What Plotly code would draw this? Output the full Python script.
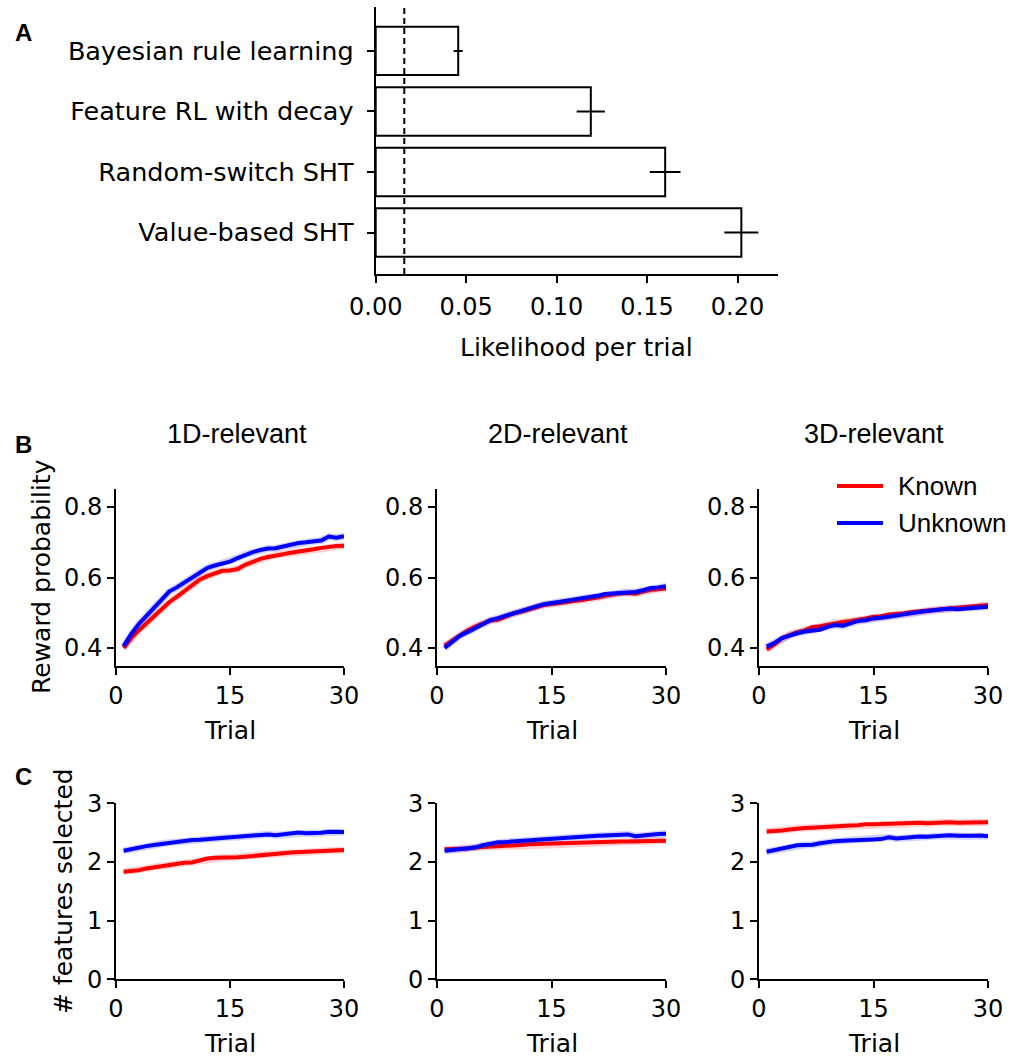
import plotly.graph_objects as go

W, H = 1024, 1059

# ---------------- data ----------------
models = ["Bayesian rule learning", "Feature RL with decay", "Random-switch SHT", "Value-based SHT"]
likelihood = [0.0456, 0.1189, 0.1600, 0.2021]
likelihood_err = [0.0025, 0.0078, 0.0085, 0.0094]
chance_level = 0.0158

trials = list(range(1, 31))
conditions = ["1D-relevant", "2D-relevant", "3D-relevant"]

reward_known_1d = [0.400, 0.428, 0.450, 0.470, 0.490, 0.512, 0.530, 0.545, 0.562, 0.580,
                   0.594, 0.604, 0.611, 0.619, 0.620, 0.624, 0.636, 0.645, 0.653, 0.658,
                   0.663, 0.666, 0.670, 0.673, 0.675, 0.680, 0.684, 0.687, 0.689, 0.690]
reward_unknown_1d = [0.405, 0.440, 0.468, 0.490, 0.512, 0.535, 0.560, 0.572, 0.586, 0.600,
                     0.612, 0.627, 0.634, 0.641, 0.645, 0.655, 0.665, 0.672, 0.678, 0.682,
                     0.683, 0.688, 0.693, 0.698, 0.700, 0.703, 0.705, 0.716, 0.713, 0.717]
reward_known_2d = [0.407, 0.422, 0.438, 0.450, 0.461, 0.470, 0.478, 0.480, 0.490, 0.498,
                   0.503, 0.510, 0.516, 0.522, 0.525, 0.527, 0.529, 0.533, 0.536, 0.539,
                   0.543, 0.548, 0.552, 0.555, 0.556, 0.554, 0.560, 0.565, 0.567, 0.569]
reward_unknown_2d = [0.400, 0.418, 0.435, 0.445, 0.457, 0.468, 0.479, 0.485, 0.492, 0.499,
                     0.505, 0.512, 0.518, 0.524, 0.527, 0.529, 0.534, 0.538, 0.541, 0.544,
                     0.548, 0.553, 0.555, 0.556, 0.559, 0.559, 0.564, 0.570, 0.572, 0.575]
reward_known_3d = [0.396, 0.410, 0.428, 0.438, 0.445, 0.450, 0.460, 0.462, 0.466, 0.472,
                   0.474, 0.477, 0.480, 0.484, 0.489, 0.490, 0.495, 0.496, 0.499, 0.502,
                   0.504, 0.506, 0.508, 0.511, 0.512, 0.513, 0.515, 0.518, 0.520, 0.522]
reward_unknown_3d = [0.404, 0.414, 0.428, 0.436, 0.442, 0.447, 0.450, 0.452, 0.460, 0.465,
                     0.463, 0.471, 0.477, 0.479, 0.484, 0.486, 0.488, 0.492, 0.496, 0.500,
                     0.502, 0.505, 0.507, 0.510, 0.512, 0.510, 0.512, 0.514, 0.515, 0.517]

nfeat_known_1d = [1.835, 1.845, 1.860, 1.890, 1.910, 1.930, 1.950, 1.970, 1.985, 1.990,
                  2.030, 2.060, 2.070, 2.070, 2.075, 2.080, 2.090, 2.105, 2.115, 2.130,
                  2.140, 2.150, 2.160, 2.165, 2.170, 2.175, 2.180, 2.185, 2.195, 2.205]
nfeat_unknown_1d = [2.190, 2.220, 2.245, 2.270, 2.290, 2.310, 2.330, 2.345, 2.360, 2.375,
                    2.380, 2.390, 2.405, 2.415, 2.420, 2.425, 2.440, 2.450, 2.460, 2.470,
                    2.455, 2.470, 2.485, 2.500, 2.490, 2.490, 2.500, 2.515, 2.510, 2.510]
nfeat_known_2d = [2.215, 2.215, 2.220, 2.230, 2.245, 2.250, 2.255, 2.265, 2.275, 2.285,
                  2.290, 2.300, 2.305, 2.315, 2.320, 2.320, 2.330, 2.335, 2.335, 2.335,
                  2.340, 2.345, 2.350, 2.350, 2.350, 2.350, 2.350, 2.355, 2.360, 2.360]
nfeat_unknown_2d = [2.190, 2.200, 2.220, 2.235, 2.245, 2.285, 2.310, 2.335, 2.340, 2.350,
                    2.355, 2.360, 2.375, 2.390, 2.400, 2.405, 2.415, 2.420, 2.430, 2.440,
                    2.445, 2.450, 2.455, 2.460, 2.470, 2.440, 2.455, 2.465, 2.475, 2.480]
nfeat_known_3d = [2.520, 2.525, 2.535, 2.555, 2.575, 2.580, 2.585, 2.595, 2.605, 2.610,
                  2.615, 2.620, 2.625, 2.645, 2.645, 2.650, 2.655, 2.660, 2.665, 2.670,
                  2.670, 2.660, 2.665, 2.680, 2.675, 2.670, 2.670, 2.670, 2.675, 2.675]
nfeat_unknown_3d = [2.175, 2.200, 2.230, 2.255, 2.285, 2.290, 2.295, 2.320, 2.340, 2.355,
                    2.360, 2.370, 2.370, 2.375, 2.385, 2.390, 2.420, 2.400, 2.415, 2.430,
                    2.435, 2.430, 2.440, 2.450, 2.455, 2.445, 2.440, 2.445, 2.450, 2.440]

reward_known = [reward_known_1d, reward_known_2d, reward_known_3d]
reward_unknown = [reward_unknown_1d, reward_unknown_2d, reward_unknown_3d]
nfeat_known = [nfeat_known_1d, nfeat_known_2d, nfeat_known_3d]
nfeat_unknown = [nfeat_unknown_1d, nfeat_unknown_2d, nfeat_unknown_3d]

series_names = ["Known", "Unknown"]
RED = "#ff0000"
BLUE = "#0000ff"
RED_HALO = "rgba(255,0,0,0.18)"
BLUE_HALO = "rgba(0,0,255,0.18)"

TICKFONT = dict(family="DejaVu Sans", size=24, color="black")
LABELFONT = dict(family="DejaVu Sans", size=25, color="black")
ARIAL = "Liberation Sans, Arial"


def px(x):
    return x / W


def py(y):
    return 1 - y / H


fig = go.Figure()

# ---------------- panel A ----------------
fig.add_trace(go.Bar(
    x=likelihood, y=list(range(len(models))), orientation="h", width=0.8,
    marker=dict(color="white", line=dict(color="black", width=2)),
    error_x=dict(type="data", array=likelihood_err, visible=True,
                 color="black", thickness=2, width=0),
    xaxis="x", yaxis="y", showlegend=False, hoverinfo="x+y"))

fig.add_shape(type="line", xref="x", yref="y domain", x0=chance_level, x1=chance_level,
              y0=0, y1=1, line=dict(color="black", width=2, dash="6px,4px"))

axis_common = dict(showline=True, linecolor="black", linewidth=2, ticks="outside",
                   ticklen=7, tickwidth=2, tickcolor="black", showgrid=False,
                   zeroline=False, tickfont=TICKFONT, mirror=False, automargin=False)

layout = dict(
    template="none",
    width=W, height=H, margin=dict(l=0, r=0, t=0, b=0, autoexpand=False),
    paper_bgcolor="white", plot_bgcolor="white", showlegend=False,
    bargap=0.2,
)
layout["xaxis"] = dict(domain=[px(375.7), px(777.7)], range=[0, 0.2222], anchor="y",
                       tickvals=[0, 0.05, 0.10, 0.15, 0.20],
                       ticktext=["0.00", "0.05", "0.10", "0.15", "0.20"],
                       ticklabelstandoff=3, **axis_common)
layout["yaxis"] = dict(domain=[py(274), py(7.3)], range=[3.685, -0.72], anchor="x",
                       tickvals=list(range(len(models))), ticktext=models,
                       ticklabelstandoff=8,
                       **{k: v for k, v in axis_common.items() if k != "tickfont"},
                       tickfont=dict(family="DejaVu Sans", size=25.5, color="black"))

# ---------------- panels B & C ----------------
x_doms = [(116, 344), (437, 666), (759, 988)]
B_ydom = (489.3, 665.7)
C_ydom = (803.3, 979.3)

for i in range(3):
    for row, (known, unknown, ydom, yrange, ytv) in enumerate([
        (reward_known, reward_unknown, B_ydom, [0.35, 0.85], [0.4, 0.6, 0.8]),
        (nfeat_known, nfeat_unknown, C_ydom, [0, 3], [0, 1, 2, 3]),
    ]):
        idx = 2 + i + 3 * row
        xa, ya = f"x{idx}", f"y{idx}"
        for vals, col, halo, name in [(known[i], RED, RED_HALO, series_names[0]),
                                       (unknown[i], BLUE, BLUE_HALO, series_names[1])]:
            fig.add_trace(go.Scatter(x=trials, y=vals, mode="lines", xaxis=xa, yaxis=ya,
                                     line=dict(color=halo, width=7), showlegend=False,
                                     hoverinfo="skip"))
            fig.add_trace(go.Scatter(x=trials, y=vals, mode="lines", xaxis=xa, yaxis=ya,
                                     line=dict(color=col, width=4), name=name,
                                     showlegend=False))
        layout[f"xaxis{idx}"] = dict(domain=[px(x_doms[i][0]), px(x_doms[i][1])],
                                     range=[0, 30], anchor=ya, tickvals=[0, 15, 30],
                                     **axis_common)
        layout[f"yaxis{idx}"] = dict(domain=[py(ydom[1]), py(ydom[0])], range=yrange,
                                     anchor=xa, tickvals=ytv, **axis_common)

fig.update_layout(**layout)

# ---------------- annotations ----------------
ann = []


def text(x, y, s, font, angle=0, xanchor="center", yanchor="middle"):
    ann.append(dict(x=px(x), y=py(y), xref="paper", yref="paper", text=s, showarrow=False,
                    font=font, textangle=angle, xanchor=xanchor, yanchor=yanchor))


bold = dict(family=ARIAL, size=24, color="black")
text(23, 32, "<b>A</b>", bold)
text(23, 444, "<b>B</b>", bold)
text(23, 776, "<b>C</b>", bold)

text(576, 347, "Likelihood per trial", LABELFONT)

title_font = dict(family=ARIAL, size=27, color="black")
legend_font = dict(family=ARIAL, size=26, color="black")
for cx, name in zip([237, 558, 874], conditions):
    text(cx, 434, name, title_font)

for (x0, x1) in x_doms:
    text((x0 + x1) / 2, 730, "Trial", LABELFONT)
    text((x0 + x1) / 2, 1043, "Trial", LABELFONT)

text(41, 577, "Reward probability", LABELFONT, angle=-90)
text(63, 891, "# features selected", LABELFONT, angle=-90)

# legend (manual)
for yy, col, name in [(486, RED, series_names[0]), (523, BLUE, series_names[1])]:
    fig.add_shape(type="line", xref="paper", yref="paper", x0=px(837), x1=px(883),
                  y0=py(yy), y1=py(yy), line=dict(color=col, width=4))
    text(896, yy, name, legend_font, xanchor="left")

fig.update_layout(annotations=ann)

fig.write_html("out.html", config={"displayModeBar": False},
               post_script="document.body.style.margin='0px';document.body.style.overflow='hidden';")
